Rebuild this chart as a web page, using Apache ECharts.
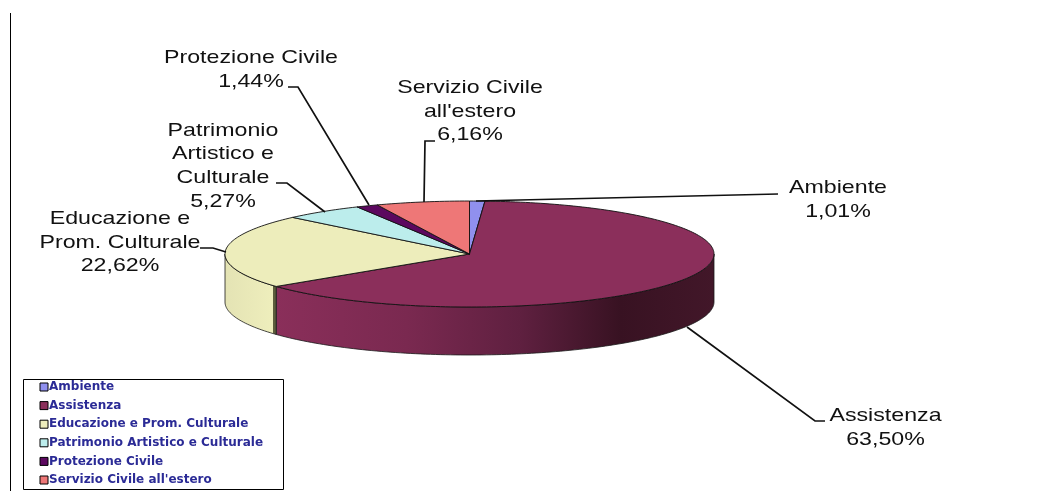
<!DOCTYPE html>
<html>
<head>
<meta charset="utf-8">
<style>
  html, body { margin: 0; padding: 0; background: #fff; }
  #main { width: 1060px; height: 491px; filter: blur(0.4px); }
</style>
<script src="https://cdn.jsdelivr.net/npm/echarts@6/dist/echarts.min.js"></script>
</head>
<body>
<div id="main"></div>
<script>
const categories = ['Ambiente', 'Assistenza', 'Educazione e Prom. Culturale', 'Patrimonio Artistico e Culturale', 'Protezione Civile', "Servizio Civile all'estero"];
const shares = [1.01, 63.5, 22.62, 5.27, 1.44, 6.16];
const labelLines = [['Ambiente'], ['Assistenza'], ['Educazione e', 'Prom. Culturale'], ['Patrimonio', 'Artistico e', 'Culturale'], ['Protezione Civile'], ['Servizio Civile', "all'estero"]];
const colors = ['#9090ee', '#8b2f5b', '#ededbb', '#bcedec', '#5c085f', '#ee7777'];

// label placement, kept apart from the values
const labelPos = [[838, 199.5], [885.5, 428], [120, 242.5], [223, 166], [251, 70], [470, 111.5]];
const leaders = [
  [[778, 194], [476, 201]],
  [[825, 421], [815, 421], [687, 327]],
  [[200, 248], [213, 248], [226, 252]],
  [[276, 183], [287, 183], [325, 212]],
  [[288, 87], [298, 87], [369, 205]],
  [[435, 141], [425, 141], [424, 202]]
];

// pie geometry: squashed ellipse with a wall below it
const cx = 469.5, cy = 254, rx = 244.5, ry = 53, depth = 48;

function point(pct, dy) {
  const a = pct * 3.6 * Math.PI / 180;
  return [cx + rx * Math.sin(a), cy - ry * Math.cos(a) + (dy || 0)];
}

function arc(from, to, dy) {
  const pts = [];
  const steps = Math.max(2, Math.ceil((to - from) * 3));
  for (let i = 0; i <= steps; i++) pts.push(point(from + (to - from) * i / steps, dy));
  return pts;
}

function wallFill(i) {
  if (i === 1) {
    return new echarts.graphic.LinearGradient(0, 0, 1, 0, [
      { offset: 0, color: '#8a2f5a' },
      { offset: 0.3, color: '#7a2950' },
      { offset: 0.557, color: '#5f2040' },
      { offset: 0.785, color: '#381222' },
      { offset: 1, color: '#421729' }
    ]);
  }
  if (i === 2) {
    return new echarts.graphic.LinearGradient(0, 0, 1, 0, [
      { offset: 0, color: '#e4e3b4' },
      { offset: 0.93, color: '#eeeebc' },
      { offset: 0.935, color: '#5d5d3c' },
      { offset: 1, color: '#5d5d3c' }
    ]);
  }
  return colors[i];
}

function renderSlice(params, api) {
  const i = params.seriesIndex;
  const start = api.value(0), end = api.value(1);
  const children = [];
  const wallFrom = Math.max(start, 25), wallTo = Math.min(end, 75);
  if (wallTo > wallFrom) {
    const wall = arc(wallFrom, wallTo).concat(arc(wallFrom, wallTo, depth).reverse());
    children.push({
      type: 'polygon',
      shape: { points: wall },
      style: { fill: wallFill(i), stroke: '#1a1a1a', lineWidth: 0.8 }
    });
  }
  children.push({
    type: 'polygon',
    shape: { points: [[cx, cy]].concat(arc(start, end)) },
    style: { fill: colors[i], stroke: '#111', lineWidth: 0.9 }
  });
  if (i === 0) {
    // thin cut face on the edge of the first slice
    const edge = point(end);
    children.push({
      type: 'polygon',
      shape: { points: [[cx, cy], [cx + 2.5, cy], [edge[0] + 3, edge[1]], edge] },
      style: { fill: '#5a5fa8', stroke: '#222', lineWidth: 0.6 }
    });
  }
  return { type: 'group', children: children };
}

function renderLabel(params, api) {
  const i = api.value(0);
  const text = labelLines[i].concat(shares[i].toFixed(2).replace('.', ',') + '%').join('\n');
  return {
    type: 'group',
    children: [
      {
        type: 'polyline',
        shape: { points: leaders[i] },
        style: { fill: null, stroke: '#111', lineWidth: 1.7 }
      },
      {
        type: 'text',
        x: labelPos[i][0],
        y: labelPos[i][1],
        scaleX: 1.22,
        style: {
          text: text,
          x: 0,
          y: 0,
          align: 'center',
          verticalAlign: 'middle',
          lineHeight: 23.6,
          font: '19px "Liberation Sans"',
          fill: '#111'
        }
      }
    ]
  };
}

let running = 0;
const sliceSeries = categories.map((name, i) => {
  const start = running;
  running += shares[i];
  return {
    type: 'custom',
    name: name,
    coordinateSystem: 'none',
    renderItem: renderSlice,
    itemStyle: { color: colors[i] },
    data: [[start, running]],
    silent: true
  };
});

const chart = echarts.init(document.getElementById('main'), null, { renderer: 'canvas' });
chart.setOption({
  animation: false,
  backgroundColor: '#fff',
  legend: {
    data: categories,
    orient: 'vertical',
    left: 39.5,
    top: 381,
    padding: 0,
    itemWidth: 8,
    itemHeight: 8,
    itemGap: 6.6,
    icon: 'rect',
    selectedMode: false,
    itemStyle: { borderColor: '#000', borderWidth: 1 },
    textStyle: {
      color: '#2b2b96',
      fontFamily: 'DejaVu Sans',
      fontWeight: 'bold',
      fontSize: 12,
      padding: [0, 0, 0, -4]
    }
  },
  graphic: [
    { type: 'line', shape: { x1: 10.5, y1: 13, x2: 10.5, y2: 491 }, style: { stroke: '#000', lineWidth: 1 } },
    { type: 'rect', z: -1, shape: { x: 23.5, y: 379.5, width: 260, height: 110 }, style: { fill: '#fff', stroke: '#000', lineWidth: 1 } }
  ],
  series: sliceSeries.concat({
    type: 'custom',
    coordinateSystem: 'none',
    renderItem: renderLabel,
    data: shares.map((v, i) => [i]),
    silent: true,
    z: 5
  })
});
</script>
</body>
</html>
